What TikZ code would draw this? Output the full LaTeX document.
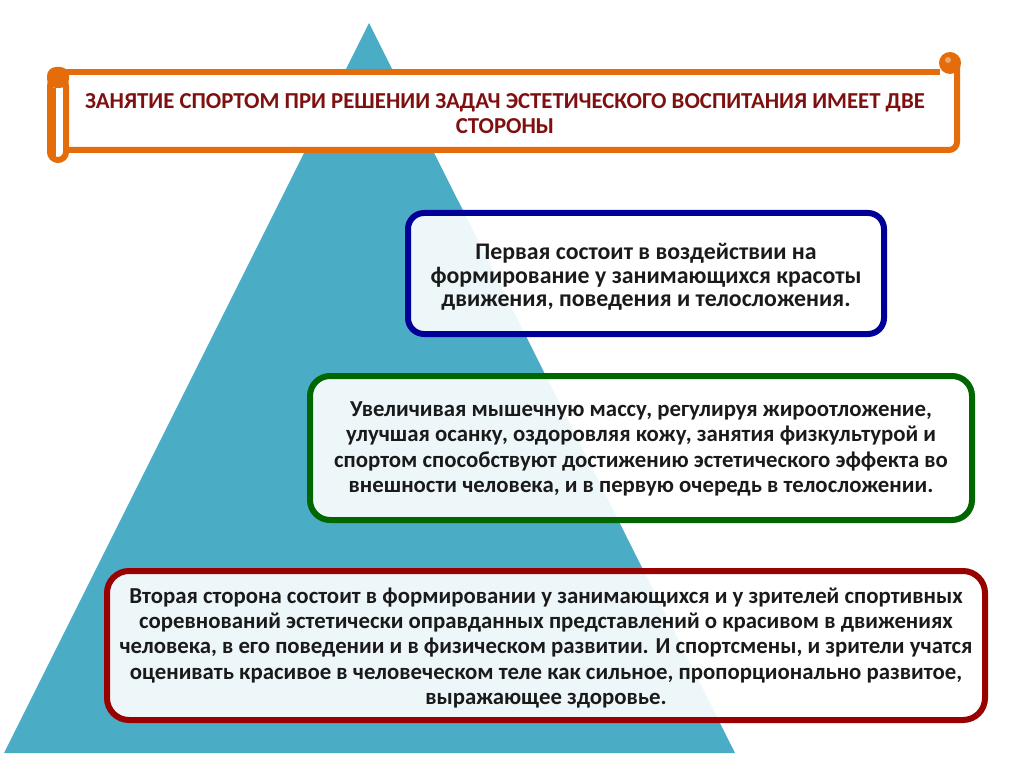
\documentclass[tikz,border=0pt]{standalone}
\usepackage{fontspec}
\setmainfont{Carlito}
\definecolor{tri}{HTML}{4BACC6}
\definecolor{scroll}{HTML}{E46C0A}
\definecolor{titlered}{HTML}{7F1010}
\definecolor{bblue}{HTML}{000099}
\definecolor{bgreen}{HTML}{006600}
\definecolor{bred}{HTML}{990000}
\definecolor{txt}{HTML}{1A1A1A}
\begin{document}
\begin{tikzpicture}[x=1pt,y=-1pt,
  card/.style={draw, line width=6pt, fill=white, fill opacity=0.9, inner sep=0pt},
  cardtext/.style={align=center, inner sep=0pt, text=txt, font=\bfseries\fontsize{22.8}{25.3}\selectfont},
  scrollline/.style={draw=scroll, line width=6pt}]
\useasboundingbox (0,0) rectangle (1024,767);
\fill[white] (0,0) rectangle (1024,767);
% pyramid
\fill[tri] (369,23) -- (735,753) -- (4,753) -- cycle;
% scroll banner
\fill[white] (60,72) rectangle (957,150);
\draw[scrollline, line join=round] (66,72) -- (940,72);
\draw[scrollline, rounded corners=8pt] (957,58) -- (957,150) -- (66,150);
\fill[scroll] (950,63) circle (11);
\fill[scroll!60!white] (948,60) circle (3);
\draw[scrollline, fill=white, rounded corners=8pt] (50,78) rectangle (66,160);
\fill[scroll, rounded corners=9pt] (47,67) rectangle (69,88);
\draw[scroll, line width=3pt, fill=white, rounded corners=2pt] (54,88) -- (54,157);
\node[text=titlered, font=\bfseries\fontsize{22.8}{25}\selectfont, align=center] (title) at (505,113.5)
  {ЗАНЯТИЕ СПОРТОМ ПРИ РЕШЕНИИ ЗАДАЧ ЭСТЕТИЧЕСКОГО ВОСПИТАНИЯ ИМЕЕТ ДВЕ\\СТОРОНЫ};
% boxes
\node[card, draw=bblue, rounded corners=16pt, minimum width=476pt, minimum height=121pt] (b1) at (646,273.5) {};
\node[cardtext, font=\bfseries\fontsize{23.8}{23.3}\selectfont] (t1) at (646,277)
  {Первая состоит в воздействии на\\формирование у занимающихся красоты\\движения, поведения и телосложения.};
\node[card, draw=bgreen, rounded corners=20pt, minimum width=662pt, minimum height=144pt] (b2) at (641,448) {};
\node[cardtext] (t2) at (641,449)
  {Увеличивая мышечную массу, регулируя жироотложение,\\улучшая осанку, оздоровляя кожу, занятия физкультурой и\\спортом способствуют достижению эстетического эффекта во\\внешности человека, и в первую очередь в телосложении.};
\node[card, draw=bred, rounded corners=22pt, minimum width=878pt, minimum height=149pt] (b3) at (546,645.5) {};
\node[cardtext] (t3) at (546,648)
  {Вторая сторона состоит в формировании у занимающихся и у зрителей спортивных\\соревнований эстетически оправданных представлений о красивом в движениях\\человека, в его поведении и в физическом развитии. И спортсмены, и зрители учатся\\оценивать красивое в человеческом теле как сильное, пропорционально развитое,\\выражающее здоровье.};
\end{tikzpicture}
\end{document}
